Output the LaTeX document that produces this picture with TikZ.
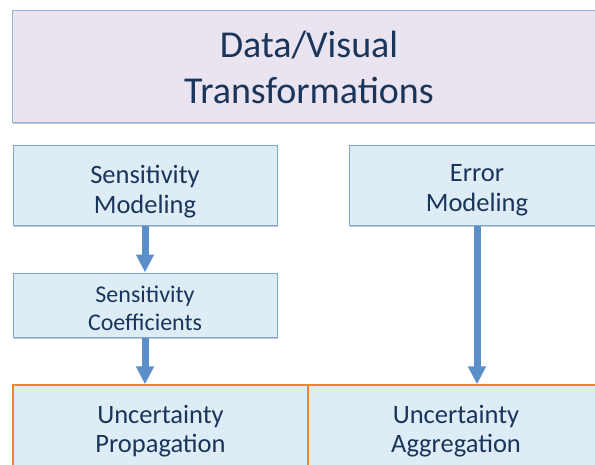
\documentclass[tikz,border=0pt]{standalone}
\usepackage{fontspec}
\setmainfont{Carlito}
\usetikzlibrary{arrows.meta}
\definecolor{lav}{HTML}{E9E4F0}
\definecolor{lavline}{HTML}{95B3D7}
\definecolor{boxfill}{HTML}{DEECF6}
\definecolor{boxline}{HTML}{7EA6D4}
\definecolor{orng}{HTML}{E8892E}
\definecolor{txt}{HTML}{1A355C}
\definecolor{arr}{HTML}{5B8FC9}
\definecolor{shad}{HTML}{C8C8C8}
\tikzset{
  base/.style={rectangle, inner sep=0pt,
     preaction={fill=shad, transform canvas={yshift=-2pt, xshift=1pt}}},
  topbox/.style={base, fill=lav, draw=lavline, line width=1pt},
  bluebox/.style={base, fill=boxfill, draw=boxline, line width=1pt},
  orangebox/.style={base, fill=boxfill, draw=orng, line width=1.3pt},
  lbl/.style={inner sep=0pt, text=txt, align=center},
  toptext/.style={lbl, font=\fontsize{38}{46}\selectfont},
  bigtext/.style={lbl, font=\fontsize{26.5}{30}\selectfont},
  smalltext/.style={lbl, font=\fontsize{24}{28.3}\selectfont},
  bottext/.style={lbl, font=\fontsize{26.5}{29}\selectfont},
  flow/.style={draw=arr, line width=7pt,
     -{Triangle[width=17pt,length=18pt]}}
}
\begin{document}
\begin{tikzpicture}[x=1pt,y=-1pt]
\useasboundingbox (0,0) rectangle (595,464);
\clip (0,0) rectangle (595,464);
\fill[white] (0,0) rectangle (595,464);
\node[topbox, minimum width=596pt, minimum height=112pt] (dv) at (310,66) {};
\node[bluebox, minimum width=264pt, minimum height=80pt] (sm) at (145,185) {};
\node[bluebox, minimum width=256pt, minimum height=80pt] (em) at (477,185) {};
\node[bluebox, minimum width=264pt, minimum height=64pt] (sc) at (145,305) {};
\node[orangebox, minimum width=295pt, minimum height=87pt] (up) at (160.5,428.5) {};
\node[orangebox, minimum width=296pt, minimum height=87pt] (ua) at (456,428.5) {};
\node[toptext] (dvt) at ([xshift=-1pt, yshift=-1pt]dv.center) {Data/Visual\\Transformations};
\node[bigtext] (smt) at ([yshift=-7pt]sm.center) {Sensitivity\\Modeling};
\node[bigtext] (emt) at ([yshift=-5.5pt]em.center) {Error\\Modeling};
\node[smalltext] (sct) at ([yshift=-3pt]sc.center) {Sensitivity\\Coefficients};
\node[bottext] (upt) at ([yshift=-2.3pt]up.center) {Uncertainty\\Propagation};
\node[bottext] (uat) at ([yshift=-2.3pt]ua.center) {Uncertainty\\Aggregation};
\draw[flow] (sm.south) -- (sc.north);
\draw[flow] (sc.south) -- (sc.south |- up.north);
\draw[flow] (em.south) -- (em.south |- ua.north);
\end{tikzpicture}
\end{document}
